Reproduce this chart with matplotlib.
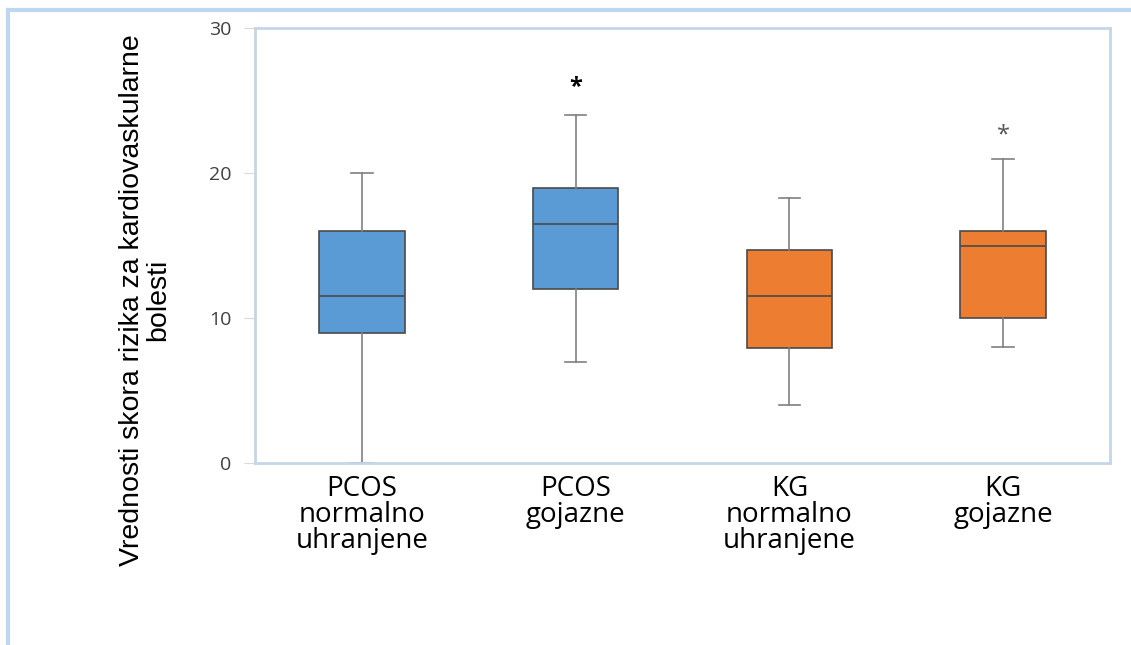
import matplotlib.pyplot as plt
from matplotlib.lines import Line2D

plt.rcParams['font.family'] = ['Open Sans', 'DejaVu Sans']

groups = ['PCOS\nnormalno\nuhranjene', 'PCOS\ngojazne', 'KG\nnormalno\nuhranjene', 'KG\ngojazne']
whislo = [0, 7, 4, 8]
q1 = [9, 12, 7.9, 10]
med = [11.5, 16.5, 11.5, 15]
q3 = [16, 19, 14.7, 16]
whishi = [20, 24, 18.3, 21]
colors = ['#5b9bd5', '#5b9bd5', '#ed7d31', '#ed7d31']
star_y = [25.9, 22.6]
star_pos = [2, 4]

stats = []
for i in range(len(groups)):
    stats.append({'whislo': whislo[i], 'q1': q1[i], 'med': med[i],
                  'q3': q3[i], 'whishi': whishi[i], 'fliers': []})

fig = plt.figure(figsize=(11.31, 6.45), dpi=100)
ax = fig.add_axes([255 / 1131, 1 - 463 / 645, 855 / 1131, 435 / 645])

bp = ax.bxp(stats, positions=[1, 2, 3, 4], widths=0.4, patch_artist=True,
            showfliers=False,
            boxprops=dict(edgecolor='#4a4a4a', linewidth=1.2),
            medianprops=dict(color='#4a4a4a', linewidth=1.2),
            whiskerprops=dict(color='#808080', linewidth=1.2),
            capprops=dict(color='#808080', linewidth=1.2))
for patch, c in zip(bp['boxes'], colors):
    patch.set_facecolor(c)
for cap in bp['caps']:
    x0, x1 = cap.get_xdata()
    m = (x0 + x1) / 2
    cap.set_xdata([m - 0.05, m + 0.05])

ax.text(star_pos[0], star_y[0], '*', ha='center', va='center', fontsize=17,
        fontweight='bold', color='black')
ax.text(star_pos[1], star_y[1], '*', ha='center', va='center', fontsize=17,
        color='#555555')

ax.set_xlim(0.5, 4.5)
ax.set_ylim(0, 30)
ax.set_yticks([0, 10, 20, 30])
ax.set_xticks([1, 2, 3, 4])
ax.set_xticklabels(groups, fontsize=20, linespacing=0.9)
ax.tick_params(axis='x', length=0, pad=9)
ax.tick_params(axis='y', length=8, color='#d9d9d9', labelcolor='#404040',
               labelsize=14, pad=9)
for s in ax.spines.values():
    s.set_color('#c5d6e8')
    s.set_linewidth(2)

fig.text(0.128, 0.535, 'Vrednosti skora rizika za kardiovaskularne\nbolesti',
         rotation=90, ha='center', va='center', fontsize=20.5, linespacing=1.0,
         family='Liberation Sans')

# outer frame
fig.add_artist(Line2D([8 / 1131, 1], [1 - 10 / 645, 1 - 10 / 645],
                      transform=fig.transFigure, color='#bdd7ee', linewidth=3))
fig.add_artist(Line2D([8 / 1131, 8 / 1131], [0, 1 - 10 / 645],
                      transform=fig.transFigure, color='#bdd7ee', linewidth=3))

fig.savefig('out.png', dpi=100)
